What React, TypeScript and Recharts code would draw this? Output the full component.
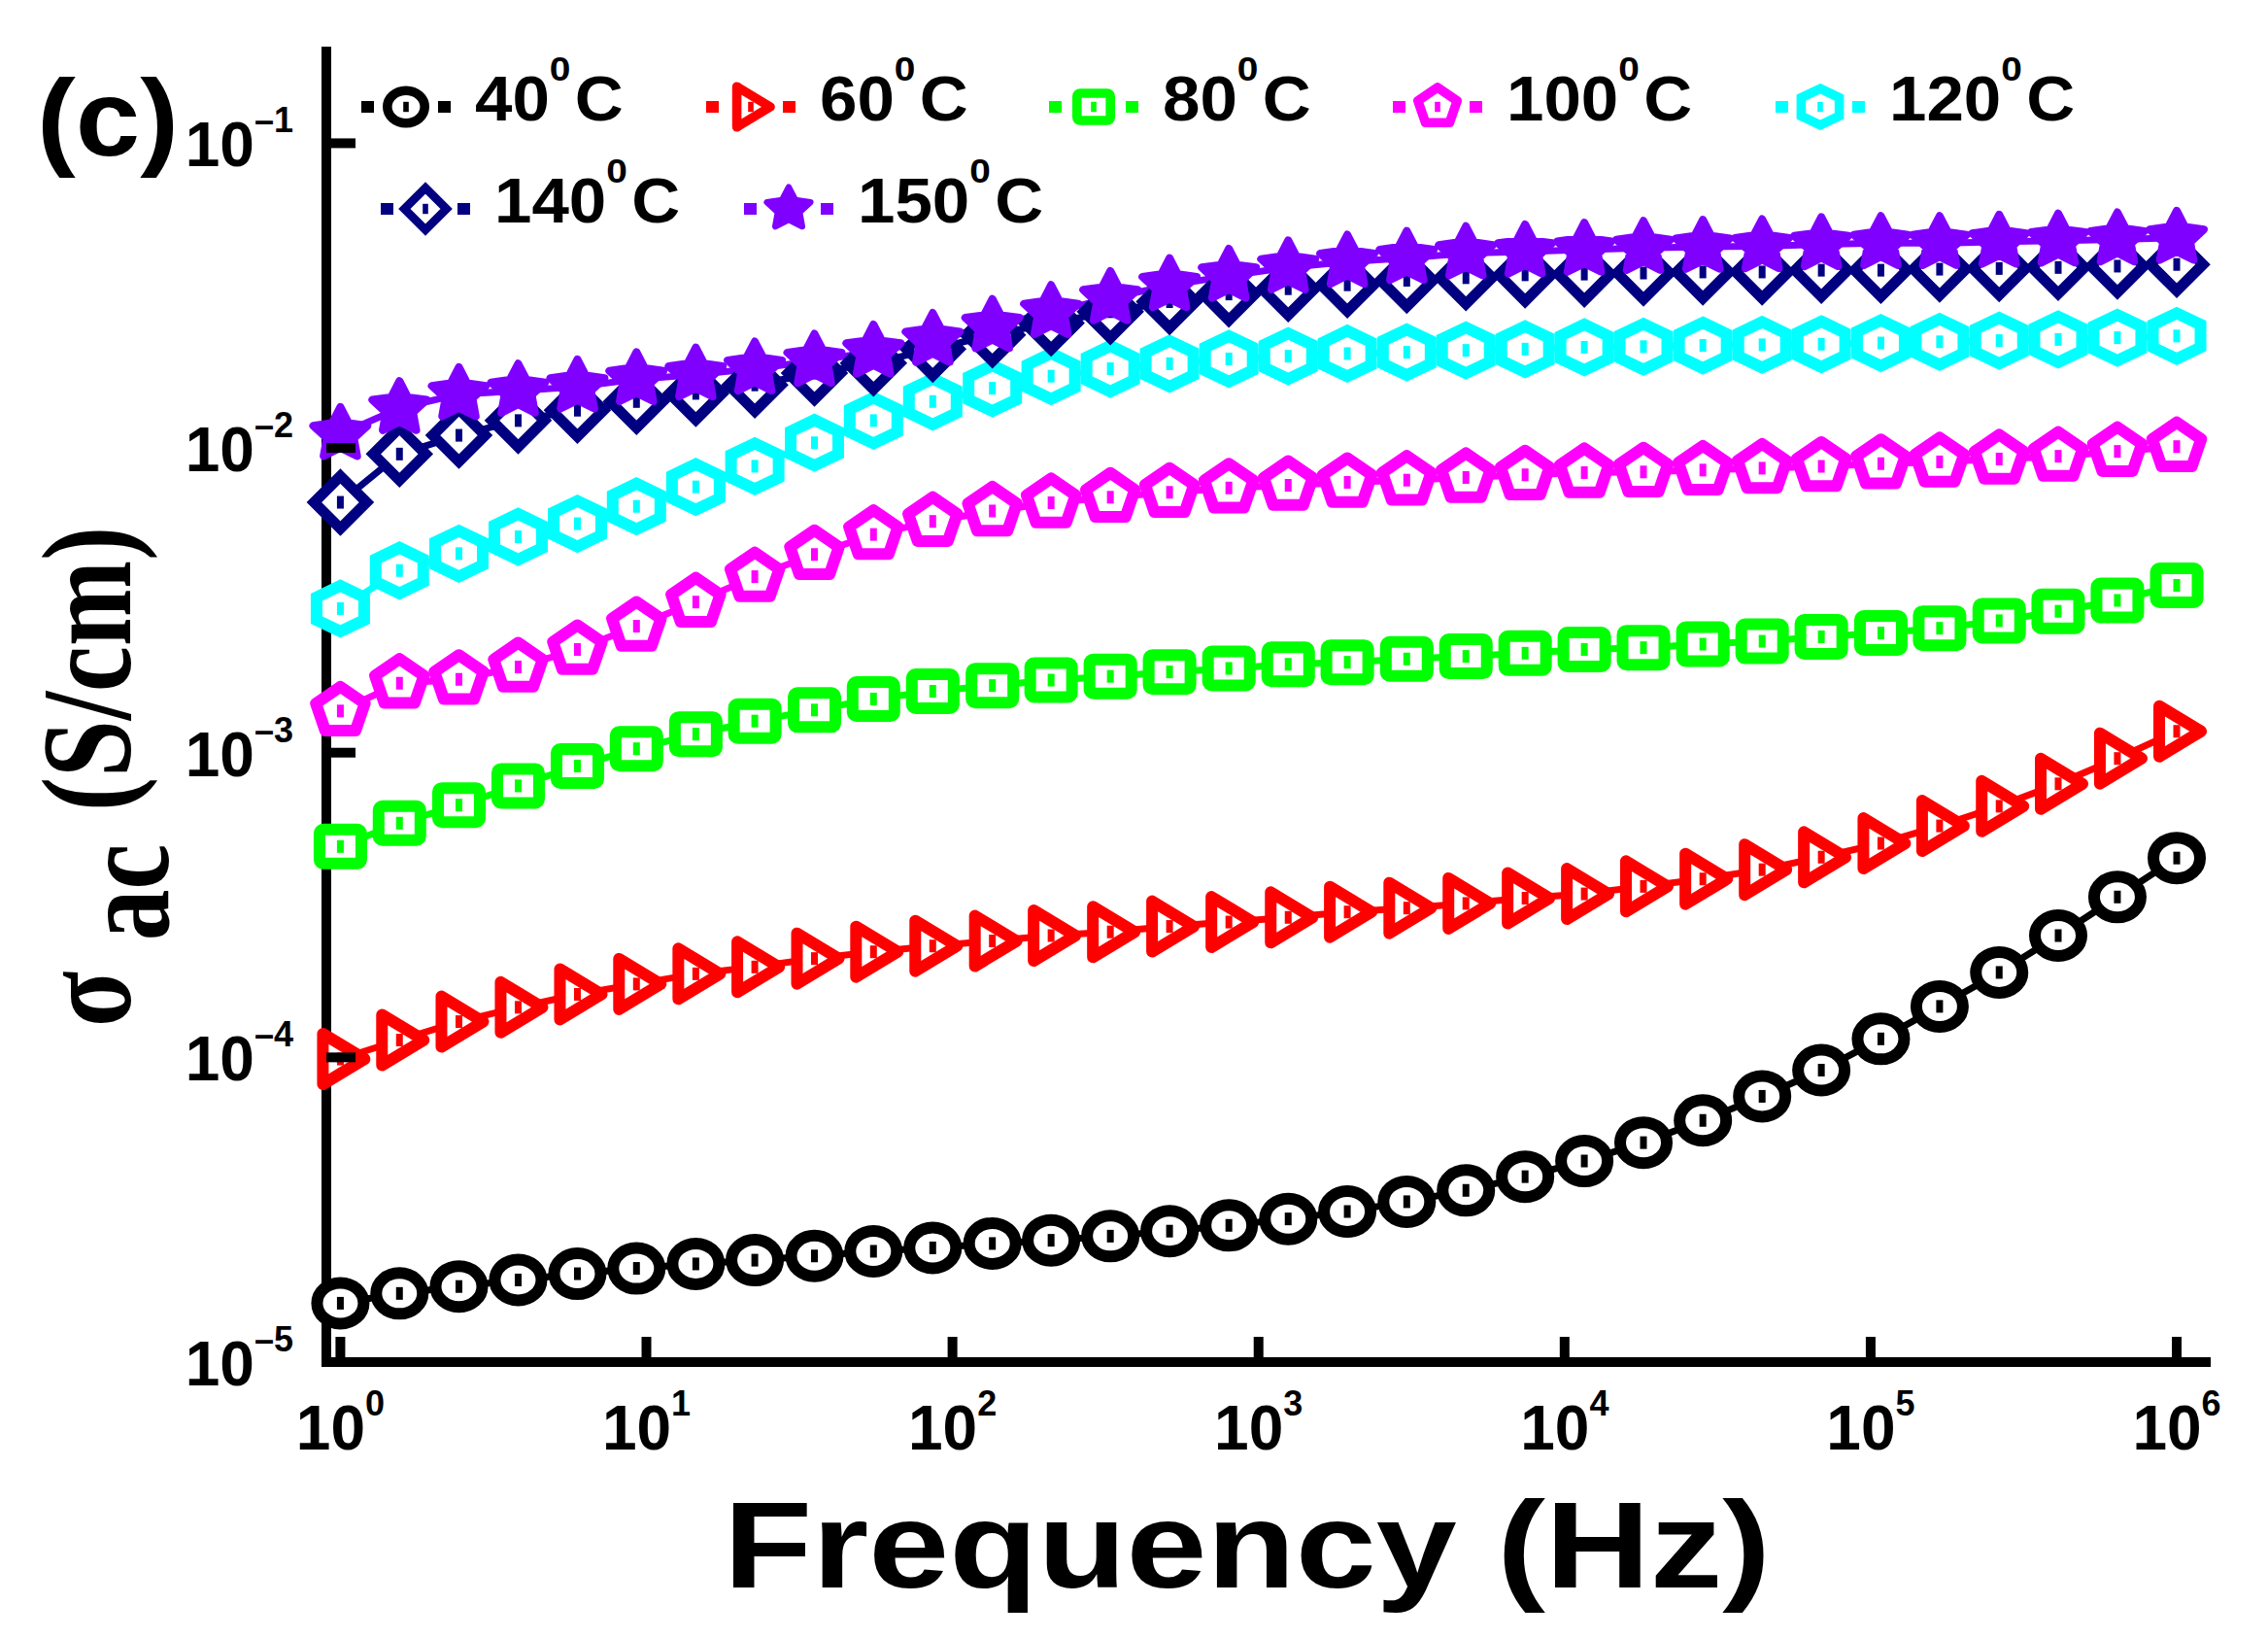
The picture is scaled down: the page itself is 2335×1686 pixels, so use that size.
import React from 'react';
import { LineChart, Line, XAxis, YAxis } from 'recharts';

// frequency points (Hz), 32 per curve
const FREQ = [
  1, 1.56, 2.44, 3.81, 5.95, 9.28, 14.5, 22.6, 35.4, 55.2, 86.2, 135, 210, 328, 512, 800,
  1250, 1950, 3050, 4760, 7430, 11600, 18100, 28300, 44200, 69000, 108000, 168000, 263000,
  410000, 640000, 1000000,
];

// sigma_ac (S/cm)
const S40 = [
  1.56e-5, 1.68e-5, 1.77e-5, 1.86e-5, 1.95e-5, 2.03e-5, 2.1e-5, 2.16e-5, 2.23e-5, 2.31e-5,
  2.37e-5, 2.45e-5, 2.51e-5, 2.59e-5, 2.69e-5, 2.81e-5, 2.95e-5, 3.12e-5, 3.36e-5, 3.66e-5,
  4.06e-5, 4.57e-5, 5.25e-5, 6.21e-5, 7.45e-5, 9.08e-5, 1.15e-4, 1.47e-4, 1.9e-4, 2.51e-4,
  3.36e-4, 4.51e-4,
];
const S60 = [
  9.88e-5, 1.14e-4, 1.31e-4, 1.46e-4, 1.61e-4, 1.74e-4, 1.88e-4, 1.98e-4, 2.11e-4, 2.22e-4,
  2.32e-4, 2.41e-4, 2.51e-4, 2.58e-4, 2.69e-4, 2.78e-4, 2.88e-4, 3.0e-4, 3.09e-4, 3.2e-4,
  3.33e-4, 3.44e-4, 3.64e-4, 3.85e-4, 4.13e-4, 4.54e-4, 5.04e-4, 5.75e-4, 6.67e-4, 7.9e-4,
  9.57e-4, 1.175e-3,
];
const S80 = [
  4.92e-4, 5.87e-4, 6.73e-4, 7.78e-4, 9.04e-4, 1.03e-3, 1.15e-3, 1.27e-3, 1.38e-3, 1.5e-3,
  1.59e-3, 1.66e-3, 1.73e-3, 1.78e-3, 1.84e-3, 1.89e-3, 1.95e-3, 1.98e-3, 2.03e-3, 2.07e-3,
  2.12e-3, 2.18e-3, 2.21e-3, 2.27e-3, 2.32e-3, 2.4e-3, 2.47e-3, 2.56e-3, 2.71e-3, 2.91e-3,
  3.16e-3, 3.54e-3,
];
const S100 = [
  1.37e-3, 1.69e-3, 1.74e-3, 1.91e-3, 2.18e-3, 2.6e-3, 3.12e-3, 3.78e-3, 4.47e-3, 5.2e-3,
  5.74e-3, 6.21e-3, 6.61e-3, 6.89e-3, 7.15e-3, 7.39e-3, 7.54e-3, 7.71e-3, 7.84e-3, 8.0e-3,
  8.16e-3, 8.3e-3, 8.34e-3, 8.46e-3, 8.58e-3, 8.7e-3, 8.88e-3, 9.0e-3, 9.2e-3, 9.39e-3,
  9.74e-3, 1.01e-2,
];
const S120 = [
  2.97e-3, 3.96e-3, 4.5e-3, 5.11e-3, 5.64e-3, 6.43e-3, 7.45e-3, 8.71e-3, 1.04e-2, 1.23e-2,
  1.42e-2, 1.57e-2, 1.72e-2, 1.82e-2, 1.89e-2, 1.96e-2, 2.0e-2, 2.04e-2, 2.06e-2, 2.09e-2,
  2.11e-2, 2.14e-2, 2.15e-2, 2.17e-2, 2.18e-2, 2.19e-2, 2.21e-2, 2.23e-2, 2.25e-2, 2.27e-2,
  2.3e-2, 2.33e-2,
];
const S140 = [
  6.63e-3, 9.55e-3, 1.1e-2, 1.23e-2, 1.33e-2, 1.42e-2, 1.51e-2, 1.61e-2, 1.76e-2, 1.9e-2,
  2.11e-2, 2.35e-2, 2.57e-2, 2.8e-2, 3.02e-2, 3.2e-2, 3.33e-2, 3.43e-2, 3.55e-2, 3.62e-2,
  3.7e-2, 3.72e-2, 3.75e-2, 3.78e-2, 3.78e-2, 3.83e-2, 3.83e-2, 3.86e-2, 3.88e-2, 3.91e-2,
  3.95e-2, 4.0e-2,
];
const S150 = [
  1.11e-2, 1.35e-2, 1.5e-2, 1.54e-2, 1.59e-2, 1.68e-2, 1.74e-2, 1.82e-2, 1.93e-2, 2.07e-2,
  2.26e-2, 2.51e-2, 2.79e-2, 3.1e-2, 3.42e-2, 3.67e-2, 3.91e-2, 4.08e-2, 4.2e-2, 4.35e-2,
  4.41e-2, 4.47e-2, 4.53e-2, 4.57e-2, 4.59e-2, 4.66e-2, 4.7e-2, 4.7e-2, 4.75e-2, 4.79e-2,
  4.83e-2, 4.89e-2,
];

const X_TICKS = [1, 10, 100, 1000, 10000, 100000, 1000000];
const Y_TICKS = [1e-5, 1e-4, 1e-3, 1e-2, 1e-1];
const X_DOMAIN = [0.9, 1.245e6];
const Y_DOMAIN = [1e-5, 0.2];

const SERIES = [
  { key: 's40', temp: '40', color: '#000000', kind: 'circle', values: S40 },
  { key: 's60', temp: '60', color: '#ff0000', kind: 'triangle', values: S60 },
  { key: 's80', temp: '80', color: '#00ff00', kind: 'square', values: S80 },
  { key: 's100', temp: '100', color: '#ff00ff', kind: 'pentagon', values: S100 },
  { key: 's120', temp: '120', color: '#00ffff', kind: 'hexagon', values: S120 },
  { key: 's140', temp: '140', color: '#000080', kind: 'diamond', values: S140 },
  { key: 's150', temp: '150', color: '#8000ff', kind: 'star', values: S150 },
];

const rows = FREQ.map((f, i) => {
  const row: Record<string, number> = { f };
  SERIES.forEach((s) => {
    row[s.key] = s.values[i];
  });
  return row;
});

const SANS = '"Liberation Sans", Arial, Helvetica, sans-serif';
const SERIF = '"Liberation Serif", "Times New Roman", serif';

const pts = (list: number[][]) => list.map((p) => p.map((v) => v.toFixed(2)).join(',')).join(' ');

const PENTAGON = pts(
  [0, 1, 2, 3, 4].map((i) => {
    const a = ((-90 + 72 * i) * Math.PI) / 180;
    return [1.06 * 25 * Math.cos(a), 25 * Math.sin(a)];
  })
);
const STAR = pts(
  [0, 1, 2, 3, 4, 5, 6, 7, 8, 9].map((i) => {
    const r = i % 2 ? 14 : 28;
    const a = ((-90 + 36 * i) * Math.PI) / 180;
    return [1.05 * r * Math.cos(a), r * Math.sin(a)];
  })
);
const HEXAGON = '0,-23.5 24.5,-11.75 24.5,11.75 0,23.5 -24.5,11.75 -24.5,-11.75';
const DIAMOND = '0,-27 27,0 0,27 -27,0';
const TRIANGLE = '-18,-26 -18,26 25,0';

function Marker({ kind, color, cx, cy, scale = 1 }: any) {
  const common = { fill: '#fff', stroke: color, strokeWidth: 12 };
  let shape: any = null;
  if (kind === 'circle') shape = <ellipse rx={24} ry={21} {...common} />;
  if (kind === 'triangle') shape = <polygon points={TRIANGLE} {...common} strokeLinejoin="round" />;
  if (kind === 'square')
    shape = <rect x={-21.5} y={-17.5} width={43} height={35} rx={4} {...common} />;
  if (kind === 'pentagon') shape = <polygon points={PENTAGON} {...common} strokeLinejoin="round" />;
  if (kind === 'hexagon') shape = <polygon points={HEXAGON} {...common} />;
  if (kind === 'diamond') shape = <polygon points={DIAMOND} {...common} strokeWidth={11} />;
  if (kind === 'star')
    shape = (
      <polygon points={STAR} fill={color} stroke={color} strokeWidth={8} strokeLinejoin="round" />
    );
  return (
    <g transform={`translate(${cx},${cy}) scale(${scale})`}>
      {shape}
      <rect x={-3.5} y={-6.5} width={7} height={13} fill={color} />
    </g>
  );
}

const dotFor = (s: any) => (props: any) => {
  const { cx, cy, index } = props;
  if (cx == null || cy == null) return <g key={`${s.key}-${index}`} />;
  return <Marker key={`${s.key}-${index}`} kind={s.kind} color={s.color} cx={cx} cy={cy} />;
};

const XTick = ({ x, y, payload }: any) => {
  const e = Math.round(Math.log10(payload.value));
  return (
    <g>
      <line x1={x} x2={x} y1={y} y2={y - 26} stroke="#000" strokeWidth={10} />
      <text
        x={x}
        y={y + 90}
        textAnchor="middle"
        fontFamily={SANS}
        fontWeight="bold"
        fontSize={64}
        fill="#000"
      >
        10
        <tspan fontSize={36} dy={-35}>
          {e}
        </tspan>
      </text>
    </g>
  );
};

const YTick = ({ x, y, payload }: any) => {
  const e = Math.round(Math.log10(payload.value));
  return (
    <g>
      <line x1={x} x2={x + 30} y1={y} y2={y} stroke="#000" strokeWidth={10} />
      <text
        x={x - 34}
        y={y + 24}
        textAnchor="end"
        fontFamily={SANS}
        fontWeight="bold"
        fontSize={64}
        fill="#000"
      >
        10
        <tspan fontSize={36} dy={-35}>
          {`\u2013${Math.abs(e)}`}
        </tspan>
      </text>
    </g>
  );
};

// legend slots: marker centre x, row y
const LEGEND_POS = [
  [418, 110],
  [773, 110],
  [1126, 110],
  [1480, 110],
  [1874, 110],
  [438, 215],
  [812, 215],
];

function LegendItem({ s, mx, my }: any) {
  return (
    <g>
      <rect x={mx - 46} y={my - 6} width={13} height={12} fill={s.color} />
      <rect x={mx + 33} y={my - 6} width={13} height={12} fill={s.color} />
      <Marker kind={s.kind} color={s.color} cx={mx} cy={my} scale={0.8} />
      <text
        transform={`translate(${mx + 71},${my + 14}) scale(1.08,1)`}
        fontFamily={SANS}
        fontWeight="bold"
        fontSize={64}
        fill="#000"
      >
        {s.temp}
        <tspan fontSize={36} dy={-41}>
          0
        </tspan>
        <tspan fontSize={64} dy={41} dx={4}>
          C
        </tspan>
      </text>
    </g>
  );
}

const frame = { stroke: '#000', strokeWidth: 10, strokeLinecap: 'square' };

export default function App() {
  return (
    <div style={{ position: 'absolute', left: 0, top: 0, width: 2335, height: 1686, background: '#fff' }}>
      <LineChart
        width={2335}
        height={1686}
        data={rows}
        margin={{ top: 53, right: 64, bottom: 224, left: 236 }}
      >
        <XAxis
          dataKey="f"
          type="number"
          scale="log"
          domain={X_DOMAIN}
          ticks={X_TICKS}
          interval={0}
          height={60}
          tickSize={0}
          tickMargin={0}
          tickLine={false}
          axisLine={frame}
          tick={<XTick />}
        />
        <XAxis
          xAxisId="top"
          orientation="top"
          type="number"
          scale="log"
          domain={X_DOMAIN}
          height={0}
          tick={false}
          tickLine={false}
          axisLine={frame}
        />
        <YAxis
          type="number"
          scale="log"
          domain={Y_DOMAIN}
          ticks={Y_TICKS}
          interval={0}
          width={100}
          tickSize={0}
          tickMargin={0}
          tickLine={false}
          axisLine={frame}
          tick={<YTick />}
        />
        <YAxis
          yAxisId="right"
          orientation="right"
          type="number"
          scale="log"
          domain={Y_DOMAIN}
          width={0}
          tick={false}
          tickLine={false}
          axisLine={frame}
        />
        {SERIES.map((s) => (
          <Line
            key={s.key}
            dataKey={s.key}
            type="linear"
            stroke={s.color}
            strokeWidth={7}
            dot={dotFor(s)}
            activeDot={false}
            isAnimationActive={false}
          />
        ))}
      </LineChart>

      <svg
        width={2335}
        height={1686}
        style={{ position: 'absolute', left: 0, top: 0, pointerEvents: 'none' }}
      >
        <text
          x={38}
          y={160}
          fontFamily={SANS}
          fontWeight="bold"
          fontSize={112}
          textLength={146}
          lengthAdjust="spacingAndGlyphs"
        >
          (c)
        </text>
        {SERIES.map((s, i) => (
          <LegendItem key={s.key} s={s} mx={LEGEND_POS[i][0]} my={LEGEND_POS[i][1]} />
        ))}
        <text
          x={745}
          y={1634}
          fontFamily={SANS}
          fontWeight="bold"
          fontSize={127}
          textLength={1078}
          lengthAdjust="spacingAndGlyphs"
        >
          Frequency (Hz)
        </text>
        <text
          transform="translate(134,1057) rotate(-90) scale(0.8,1)"
          fontFamily={SERIF}
          fontWeight="bold"
          fontSize={132}
        >
          <tspan>σ</tspan>
          <tspan dx={39} dy={39}>
            ac
          </tspan>
          <tspan dx={42} dy={-39}>
            (S/cm)
          </tspan>
        </text>
      </svg>
    </div>
  );
}
